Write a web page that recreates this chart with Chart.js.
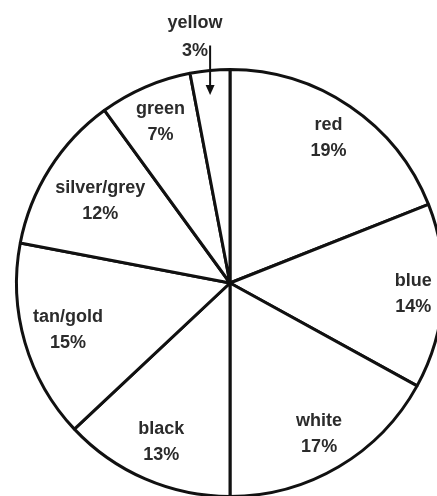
<!DOCTYPE html>
<html>
<head>
<meta charset="utf-8">
<script src="https://cdn.jsdelivr.net/npm/chart.js@4/dist/chart.umd.min.js"></script>
<style>
html,body{margin:0;padding:0;background:#fff;overflow:hidden;width:437px;height:496px;}
#wrap{position:absolute;left:0;top:0;width:460px;height:520px;}
</style>
</head>
<body>
<div id="wrap"><canvas id="c" width="460" height="520"></canvas></div>
<script>
// Data
const categories = ['red', 'blue', 'white', 'black', 'tan/gold', 'silver/grey', 'green', 'yellow'];
const percentValues = [19, 14, 17, 13, 15, 12, 7, 3];

// Label radial placement (fraction of radius); yellow is labelled outside with an arrow
const labelRadius = [0.82, 0.86, 0.82, 0.81, 0.79, 0.72, 0.82, null];

const labelPlugin = {
  id: 'pieLabels',
  afterDatasetsDraw(chart) {
    const ctx = chart.ctx;
    const meta = chart.getDatasetMeta(0);
    ctx.save();
    ctx.fillStyle = '#2b2b2b';
    ctx.font = 'bold 18px "Liberation Sans", Arial, sans-serif';
    ctx.textAlign = 'center';
    ctx.textBaseline = 'middle';
    meta.data.forEach((arc, i) => {
      const {x, y, startAngle, endAngle, outerRadius} = arc.getProps(['x','y','startAngle','endAngle','outerRadius'], true);
      const mid = (startAngle + endAngle) / 2;
      const pct = percentValues[i] + '%';
      if (labelRadius[i] !== null) {
        const r = outerRadius * labelRadius[i];
        const lx = x + Math.cos(mid) * r;
        const ly = y + Math.sin(mid) * r;
        ctx.fillText(categories[i], lx, ly - 13);
        ctx.fillText(pct, lx, ly + 13);
      } else {
        // outside label with arrow
        const ax = x + Math.cos(mid) * outerRadius * 0.99;
        const tipY = y + Math.sin(mid) * outerRadius * 0.885;
        const textX = ax - 15;
        const topY = y - outerRadius;
        ctx.fillText(categories[i], textX, topY - 46);
        ctx.fillText(pct, textX, topY - 18);
        ctx.strokeStyle = '#111';
        ctx.lineWidth = 2;
        ctx.beginPath();
        ctx.moveTo(ax, topY - 24);
        ctx.lineTo(ax, tipY - 6);
        ctx.stroke();
        ctx.fillStyle = '#111';
        ctx.beginPath();
        ctx.moveTo(ax - 4.5, tipY - 10);
        ctx.lineTo(ax + 4.5, tipY - 10);
        ctx.lineTo(ax, tipY);
        ctx.closePath();
        ctx.fill();
        ctx.fillStyle = '#2b2b2b';
      }
    });
    ctx.restore();
  }
};

new Chart(document.getElementById('c'), {
  type: 'pie',
  data: {
    labels: categories,
    datasets: [{
      data: percentValues,
      backgroundColor: '#ffffff',
      borderColor: '#111111',
      borderWidth: 3,
      borderAlign: 'center'
    }]
  },
  options: {
    responsive: false,
    animation: false,
    devicePixelRatio: 1,
    layout: { padding: { left: 15, top: 68, right: 15, bottom: 22 } },
    plugins: {
      legend: { display: false },
      tooltip: { enabled: false }
    }
  },
  plugins: [labelPlugin]
});
</script>
</body>
</html>
